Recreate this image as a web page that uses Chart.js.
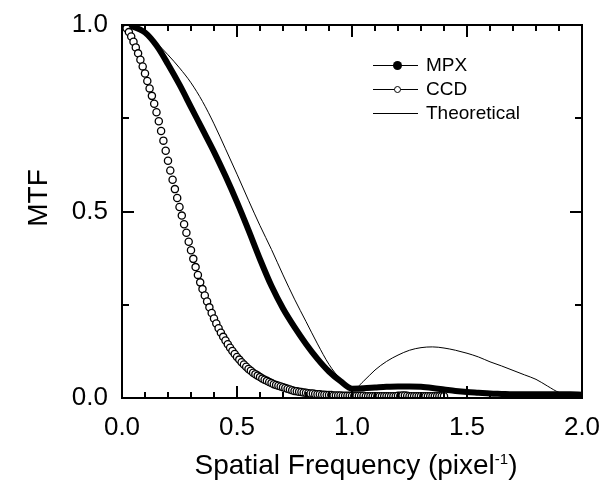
<!DOCTYPE html>
<html>
<head>
<meta charset="utf-8">
<title>MTF</title>
<script src="https://cdn.jsdelivr.net/npm/chart.js@4.4.0/dist/chart.umd.min.js"></script>
<style>
  html, body { margin: 0; padding: 0; background: #fff; }
  #wrap { position: relative; width: 616px; height: 482px; font-family: "Liberation Sans", Arial, sans-serif; color: #000; }
  #mtfChart { position: absolute; left: 0; top: 0; }
  .axis-title { position: absolute; font-size: 28px; line-height: 30px; white-space: nowrap; text-align: center; }
  .axis-title sup { font-size: 15px; vertical-align: 10px; line-height: 0; }
  #legend { position: absolute; left: 0; top: 0; }
  .lg-row { position: absolute; left: 373px; height: 24px; width: 160px; }
  .lg-line { position: absolute; left: 0; top: 12px; width: 45px; height: 1px; background: #000; }
  .lg-dot { position: absolute; border-radius: 50%; box-sizing: border-box; }
  .lg-text { position: absolute; left: 53px; top: 0; font-size: 19px; line-height: 24px; }
</style>
</head>
<body>
<div id="wrap">
  <canvas id="mtfChart" width="616" height="482"></canvas>
  <div class="axis-title" id="xTitle" style="left:156px; top:450px; width:400px;">Spatial Frequency (pixel<sup>-1</sup>)</div>
  <div class="axis-title" id="yTitle" style="left:-12px; top:183px; width:100px; transform:rotate(-90deg);">MTF</div>
  <div id="legend"></div>
</div>
<script>
// Series names
const seriesNames = ['MPX', 'CCD', 'Theoretical'];

// MPX and theoretical curves, read every 0.05 pixel^-1
const mpxFreq = [0.00, 0.05, 0.10, 0.15, 0.20, 0.25, 0.30, 0.35, 0.40, 0.45,
                 0.50, 0.55, 0.60, 0.65, 0.70, 0.75, 0.80, 0.85, 0.90, 0.95,
                 1.00, 1.05, 1.10, 1.15, 1.20, 1.25, 1.30, 1.35, 1.40, 1.45,
                 1.50, 1.55, 1.60, 1.65, 1.70, 1.75, 1.80, 1.85, 1.90, 1.95, 2.00];
const mpxMTF = [1.000, 0.995, 0.980, 0.945, 0.895, 0.840, 0.780, 0.720, 0.660, 0.595,
                0.525, 0.450, 0.372, 0.300, 0.240, 0.190, 0.145, 0.105, 0.071, 0.045,
                0.025, 0.026, 0.028, 0.030, 0.031, 0.031, 0.030, 0.027, 0.023, 0.019,
                0.016, 0.014, 0.012, 0.011, 0.010, 0.010, 0.010, 0.010, 0.010, 0.010, 0.009];
const theoryMTF = [1.000, 0.995, 0.980, 0.952, 0.920, 0.885, 0.845, 0.795, 0.735, 0.668,
                   0.600, 0.530, 0.462, 0.398, 0.330, 0.265, 0.205, 0.145, 0.090, 0.050,
                   0.020, 0.045, 0.075, 0.098, 0.115, 0.128, 0.135, 0.137, 0.134, 0.128,
                   0.120, 0.110, 0.097, 0.086, 0.074, 0.062, 0.050, 0.032, 0.015, 0.010, 0.010];

// CCD measured points (one circle every 0.01 pixel^-1)
const ccdFreq = [0.00, 0.01, 0.02, 0.03, 0.04, 0.05, 0.06, 0.07, 0.08, 0.09,
                 0.10, 0.11, 0.12, 0.13, 0.14, 0.15, 0.16, 0.17, 0.18, 0.19,
                 0.20, 0.21, 0.22, 0.23, 0.24, 0.25, 0.26, 0.27, 0.28, 0.29,
                 0.30, 0.31, 0.32, 0.33, 0.34, 0.35, 0.36, 0.37, 0.38, 0.39,
                 0.40, 0.41, 0.42, 0.43, 0.44, 0.45, 0.46, 0.47, 0.48, 0.49,
                 0.50, 0.51, 0.52, 0.53, 0.54, 0.55, 0.56, 0.57, 0.58, 0.59,
                 0.60, 0.61, 0.62, 0.63, 0.64, 0.65, 0.66, 0.67, 0.68, 0.69,
                 0.70, 0.71, 0.72, 0.73, 0.74, 0.75, 0.76, 0.77, 0.78, 0.79,
                 0.80, 0.81, 0.82, 0.83, 0.84, 0.85, 0.86, 0.87, 0.88, 0.89,
                 0.90, 0.91, 0.92, 0.93, 0.94, 0.95, 0.96, 0.97, 0.98, 0.99,
                 1.00, 1.01, 1.02, 1.03, 1.04, 1.05, 1.06, 1.07, 1.08, 1.09,
                 1.10, 1.11, 1.12, 1.13, 1.14, 1.15, 1.16, 1.17, 1.18, 1.19,
                 1.20, 1.21, 1.22, 1.23, 1.24, 1.25, 1.26, 1.27, 1.28, 1.29,
                 1.30, 1.31, 1.32, 1.33, 1.34, 1.35, 1.36, 1.37, 1.38, 1.39, 1.40];
const ccdMTF = [1.000, 0.998, 0.991, 0.981, 0.969, 0.955, 0.940, 0.924, 0.907, 0.889,
                0.870, 0.850, 0.830, 0.810, 0.789, 0.766, 0.742, 0.716, 0.690, 0.663,
                0.636, 0.610, 0.585, 0.560, 0.536, 0.512, 0.489, 0.466, 0.443, 0.419,
                0.396, 0.373, 0.351, 0.330, 0.310, 0.292, 0.275, 0.259, 0.243, 0.228,
                0.213, 0.200, 0.187, 0.175, 0.164, 0.154, 0.144, 0.135, 0.126, 0.118,
                0.110, 0.103, 0.096, 0.090, 0.084, 0.078, 0.073, 0.068, 0.064, 0.060,
                0.056, 0.052, 0.049, 0.046, 0.043, 0.040, 0.037, 0.035, 0.033, 0.031,
                0.029, 0.027, 0.025, 0.023, 0.021, 0.019, 0.018, 0.017, 0.016, 0.015,
                0.014, 0.013, 0.012, 0.012, 0.011, 0.010, 0.010, 0.009, 0.009, 0.008,
                0.008, 0.008, 0.007, 0.007, 0.007, 0.007, 0.006, 0.006, 0.006, 0.006,
                0.006, 0.006, 0.006, 0.006, 0.006, 0.006, 0.005, 0.005, 0.005, 0.005,
                0.005, 0.005, 0.005, 0.005, 0.005, 0.005, 0.005, 0.005, 0.005, 0.005,
                0.006, 0.006, 0.007, 0.007, 0.006, 0.005, 0.005, 0.005, 0.005, 0.005,
                0.005, 0.005, 0.005, 0.005, 0.005, 0.005, 0.005, 0.005, 0.005, 0.005, 0.005];

// Axis ranges and tick labels
const xMin = 0, xMax = 2, xMajor = 0.5, xMinor = 0.1;
const yMin = 0, yMax = 1, yMajor = 0.5, yMinor = 0.25;

function toPoints(xs, ys) {
    return xs.map((x, i) => ({ x: x, y: ys[i] }));
}

// Frame around the plot and inward ticks on all four sides
const frameTicks = {
    id: 'frameTicks',
    afterDatasetsDraw(chart) {
        const { ctx, chartArea: a, scales: { x, y } } = chart;
        ctx.save();
        ctx.strokeStyle = '#000';
        ctx.lineWidth = 2;
        ctx.beginPath();
        for (let v = xMin + xMinor; v < xMax - 1e-6; v += xMinor) {
            const px = Math.round(x.getPixelForValue(v));
            const len = Math.abs(v / xMajor - Math.round(v / xMajor)) < 1e-6 ? 12 : 6;
            ctx.moveTo(px, a.bottom); ctx.lineTo(px, a.bottom - len);
            ctx.moveTo(px, a.top); ctx.lineTo(px, a.top + len);
        }
        for (let v = yMin + yMinor; v < yMax - 1e-6; v += yMinor) {
            const py = Math.round(y.getPixelForValue(v));
            const len = Math.abs(v / yMajor - Math.round(v / yMajor)) < 1e-6 ? 12 : 7;
            ctx.moveTo(a.left, py); ctx.lineTo(a.left + len, py);
            ctx.moveTo(a.right, py); ctx.lineTo(a.right - len, py);
        }
        ctx.stroke();
        ctx.strokeRect(a.left, a.top, a.right - a.left, a.bottom - a.top);
        ctx.restore();
    }
};

const tickFont = { family: '"Liberation Sans", Arial, sans-serif', size: 26 };

const chart = new Chart(document.getElementById('mtfChart'), {
    type: 'line',
    data: {
        datasets: [
            {
                label: seriesNames[0],
                data: toPoints(mpxFreq, mpxMTF),
                borderColor: '#000',
                borderWidth: 6,
                pointRadius: 0,
                cubicInterpolationMode: 'monotone',
                fill: false,
                order: 1
            },
            {
                label: seriesNames[1],
                data: toPoints(ccdFreq, ccdMTF),
                showLine: false,
                pointRadius: 3.6,
                pointBorderWidth: 1.3,
                pointBorderColor: '#000',
                pointBackgroundColor: '#fff',
                order: 0
            },
            {
                label: seriesNames[2],
                data: toPoints(mpxFreq, theoryMTF),
                borderColor: '#000',
                borderWidth: 1,
                pointRadius: 0,
                cubicInterpolationMode: 'monotone',
                fill: false,
                order: 2
            }
        ]
    },
    options: {
        responsive: false,
        animation: false,
        layout: { padding: { left: 0, top: 25, right: 34, bottom: 0 } },
        plugins: {
            legend: { display: false },
            tooltip: { enabled: false }
        },
        scales: {
            x: {
                type: 'linear',
                min: xMin,
                max: xMax,
                grid: { display: false },
                border: { display: false },
                afterFit(scale) { scale.height = 84; },
                ticks: {
                    stepSize: xMajor,
                    color: '#000',
                    font: tickFont,
                    padding: 6,
                    maxRotation: 0,
                    callback: v => v.toFixed(1)
                }
            },
            y: {
                type: 'linear',
                min: yMin,
                max: yMax,
                grid: { display: false },
                border: { display: false },
                afterFit(scale) { scale.width = 122; },
                ticks: {
                    stepSize: yMajor,
                    color: '#000',
                    font: tickFont,
                    padding: 6,
                    callback: v => v.toFixed(1)
                }
            }
        }
    },
    plugins: [frameTicks]
});

// Legend in the Origin style: line with marker, then the name
function buildLegend() {
    const box = document.getElementById('legend');
    chart.data.datasets.forEach((ds, i) => {
        const row = document.createElement('div');
        row.className = 'lg-row';
        row.style.top = (53 + i * 24) + 'px';
        row.innerHTML = '<span class="lg-line"></span><span class="lg-text">' + ds.label + '</span>';
        if (i === 0) {
            const dot = document.createElement('span');
            dot.className = 'lg-dot';
            dot.style.cssText = 'left:20px;top:8px;width:9px;height:9px;background:#000;';
            row.appendChild(dot);
        } else if (i === 1) {
            const dot = document.createElement('span');
            dot.className = 'lg-dot';
            dot.style.cssText = 'left:21px;top:9px;width:7px;height:7px;background:#fff;border:1px solid #000;';
            row.appendChild(dot);
        }
        box.appendChild(row);
    });
}

buildLegend();
</script>
</body>
</html>
